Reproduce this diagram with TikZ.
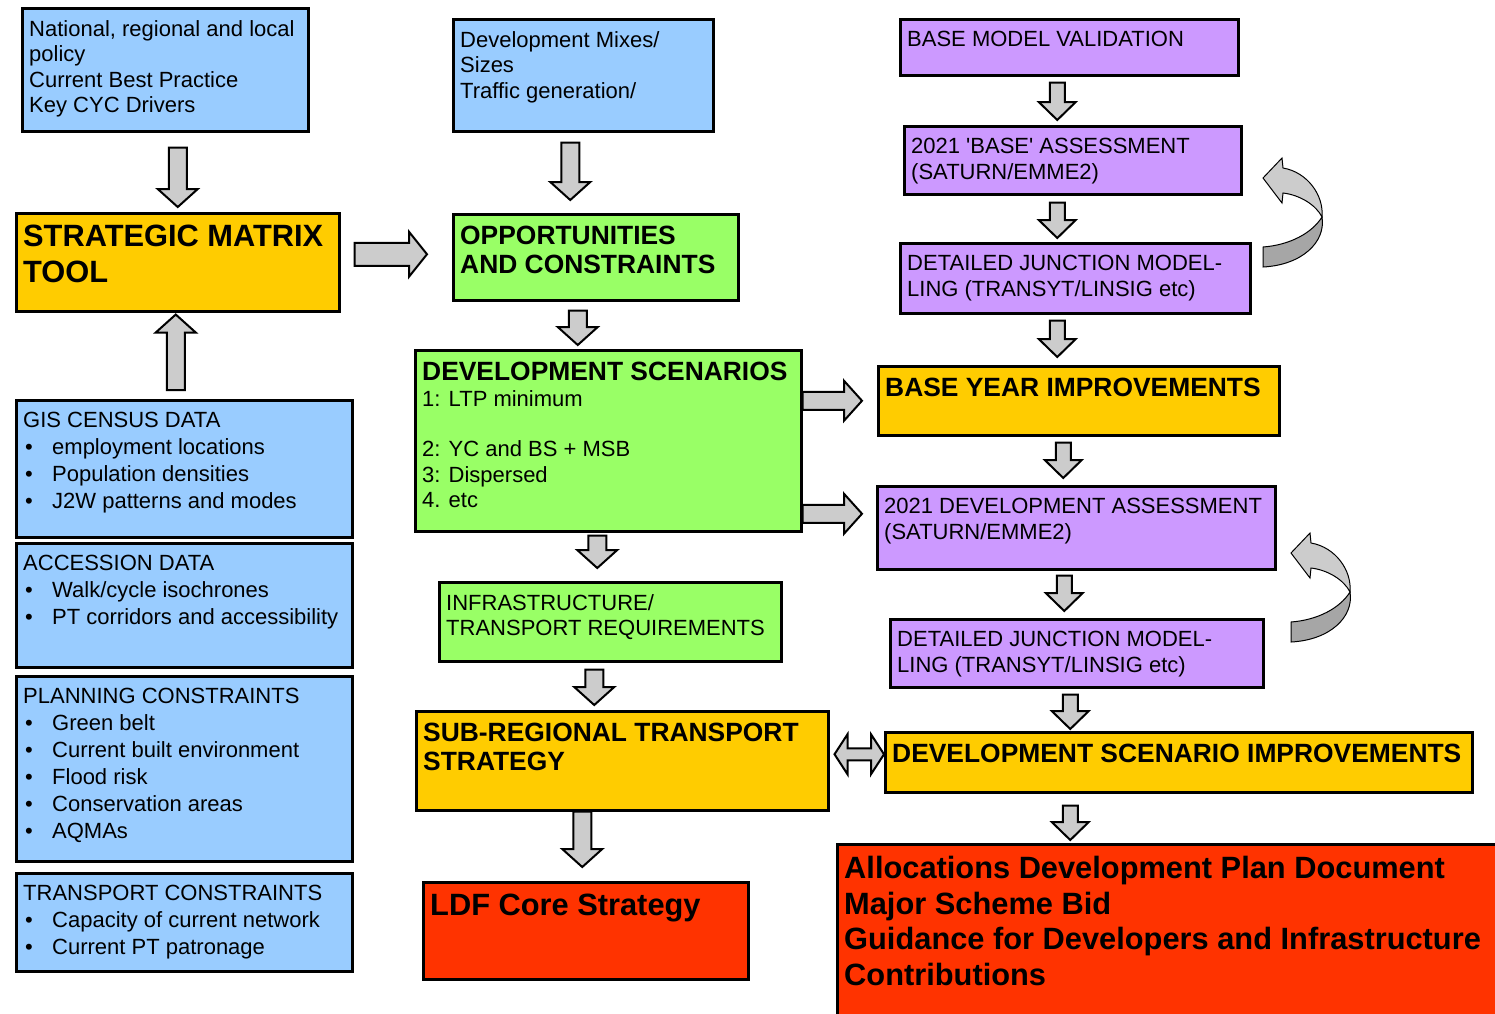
\documentclass[tikz,border=0pt]{standalone}
\usepackage{fontspec}
\setmainfont{Liberation Sans}
\usetikzlibrary{calc}

\definecolor{skyblue}{HTML}{99CCFF}
\definecolor{amber}{HTML}{FFCC00}
\definecolor{lgreen}{HTML}{99FF66}
\definecolor{lilac}{HTML}{CC99FF}
\definecolor{scarlet}{HTML}{FF3300}
\definecolor{arrowgray}{HTML}{CCCCCC}
\definecolor{loopdark}{HTML}{A6A6A6}

\tikzset{
  box/.style={draw, line width=2.5pt, anchor=north west, inner sep=0pt},
  txt/.style={anchor=north west, align=left, inner xsep=8pt, inner ysep=13pt, font=\fontsize{22}{25.5}\selectfont},
  lst/.style={txt, font=\fontsize{22}{27}\selectfont},
  hdr/.style={txt, font=\fontsize{26.4}{29}\selectfont\bfseries},
  big/.style={txt, font=\fontsize{30.8}{35.5}\selectfont\bfseries},
  fat/.style={draw=black, line width=2pt, fill=arrowgray, line join=miter},
  loopback/.pic={
    \draw[line width=1pt, fill=arrowgray] (60,0) .. controls (62,-22) and (45,-45) .. (21,-49) -- (20,-59) -- (1,-39) -- (20,-14) -- (21,-24) .. controls (38,-22) and (54,-12) .. (60,0) -- cycle;
    \draw[line width=1pt, fill=loopdark] (60,0) .. controls (50,16) and (28,28) .. (1,30) -- (1,50) .. controls (40,48) and (64,25) .. (60,0) -- cycle;
  }
}

\newcommand{\itm}[1]{\makebox[29pt][l]{\hspace*{2pt}\textbullet}#1}

% block arrow from #2 to #3, #1 = half shaft width
\newcommand{\fatarrow}[3][9pt]{%
  \coordinate (fa0) at (#2);
  \coordinate (fa1) at (#3);
  \coordinate (fam) at ($(fa1)!18pt!(fa0)$);
  \draw[fat] ($(fa0)!#1!90:(fa1)$) -- ($(fam)!#1!90:(fa1)$) -- ($(fam)!#1+11pt!90:(fa1)$) -- (fa1)
    -- ($(fam)!#1+11pt!-90:(fa1)$) -- ($(fam)!#1!-90:(fa1)$) -- ($(fa0)!#1!-90:(fa1)$) -- cycle;}
\newcommand{\dblarrow}[3][6pt]{%
  \coordinate (fa0) at (#2);
  \coordinate (fa1) at (#3);
  \coordinate (fam) at ($(fa1)!13pt!(fa0)$);
  \coordinate (fan) at ($(fa0)!13pt!(fa1)$);
  \draw[fat] (fa0) -- ($(fan)!#1+14pt!90:(fa1)$) -- ($(fan)!#1!90:(fa1)$) -- ($(fam)!#1!90:(fa1)$) -- ($(fam)!#1+14pt!90:(fa1)$) -- (fa1)
    -- ($(fam)!#1+14pt!-90:(fa1)$) -- ($(fam)!#1!-90:(fa1)$) -- ($(fan)!#1!-90:(fa1)$) -- ($(fan)!#1+14pt!-90:(fa1)$) -- cycle;}

\begin{document}
\begin{tikzpicture}[x=1pt, y=-1pt]
\useasboundingbox (0,0) rectangle (1495,1013);

% left column
\node[box, fill=skyblue, minimum width=286pt, minimum height=123pt,
  label={[txt]north west:{National, regional and local\\policy\\Current Best Practice\\Key CYC Drivers}}] (policy) at (21,7) {};
\node[box, fill=amber, minimum width=323pt, minimum height=98pt,
  label={[big]north west:{STRATEGIC MATRIX\\TOOL}}] (smt) at (15,212) {};
\node[box, fill=skyblue, minimum width=336pt, minimum height=137pt,
  label={[lst]north west:{GIS CENSUS DATA\\\itm{employment locations}\\\itm{Population densities}\\\itm{J2W patterns and modes}}}] (gis) at (15,399) {};
\node[box, fill=skyblue, minimum width=336pt, minimum height=124pt,
  label={[lst]north west:{ACCESSION DATA\\\itm{Walk/cycle isochrones}\\\itm{PT corridors and accessibility}}}] (access) at (15,542) {};
\node[box, fill=skyblue, minimum width=336pt, minimum height=185pt,
  label={[lst]north west:{PLANNING CONSTRAINTS\\\itm{Green belt}\\\itm{Current built environment}\\\itm{Flood risk}\\\itm{Conservation areas}\\\itm{AQMAs}}}] (planning) at (15,675) {};
\node[box, fill=skyblue, minimum width=336pt, minimum height=98pt,
  label={[lst]north west:{TRANSPORT CONSTRAINTS\\\itm{Capacity of current network}\\\itm{Current PT patronage}}}] (transp) at (15,872) {};

% middle column
\node[box, fill=skyblue, minimum width=260pt, minimum height=112pt,
  label={[txt]north west:{Development Mixes/\\Sizes\\Traffic generation/}}] (mixes) at (452,18) {};
\node[box, fill=lgreen, minimum width=285pt, minimum height=86pt,
  label={[hdr]north west:{OPPORTUNITIES\\AND CONSTRAINTS}}] (opp) at (452,213) {};
\node[box, fill=lgreen, minimum width=386pt, minimum height=181pt,
  label={[txt]north west:{{\fontsize{26.4}{29}\selectfont\bfseries DEVELOPMENT SCENARIOS}\\1: LTP minimum\\[25pt]2: YC and BS + MSB\\3: Dispersed\\4. etc}}] (scen) at (414,349) {};
\node[box, fill=lgreen, minimum width=342pt, minimum height=79pt,
  label={[txt]north west:{INFRASTRUCTURE/\\TRANSPORT REQUIREMENTS}}] (infra) at (438,581) {};
\node[box, fill=amber, minimum width=412pt, minimum height=99pt,
  label={[hdr]north west:{SUB-REGIONAL TRANSPORT\\STRATEGY}}] (subreg) at (415,710) {};
\node[box, fill=scarlet, minimum width=325pt, minimum height=97pt,
  label={[big]north west:{LDF Core Strategy}}] (ldf) at (422,881) {};

% right column
\node[box, fill=lilac, minimum width=338pt, minimum height=56pt,
  label={[txt]north west:{BASE MODEL VALIDATION}}] (bmv) at (899,18) {};
\node[box, fill=lilac, minimum width=337pt, minimum height=68pt,
  label={[txt]north west:{2021 \textquotesingle BASE\textquotesingle{} ASSESSMENT\\(SATURN/EMME2)}}] (base21) at (903,125) {};
\node[box, fill=lilac, minimum width=350pt, minimum height=70pt,
  label={[txt]north west:{DETAILED JUNCTION MODEL-\\LING (TRANSYT/LINSIG etc)}}] (junc1) at (899,242) {};
\node[box, fill=amber, minimum width=401pt, minimum height=69pt,
  label={[hdr]north west:{BASE YEAR IMPROVEMENTS}}] (byi) at (877,365) {};
\node[box, fill=lilac, minimum width=398pt, minimum height=83pt,
  label={[txt]north west:{2021 DEVELOPMENT ASSESSMENT\\(SATURN/EMME2)}}] (dev21) at (876,485) {};
\node[box, fill=lilac, minimum width=373pt, minimum height=68pt,
  label={[txt]north west:{DETAILED JUNCTION MODEL-\\LING (TRANSYT/LINSIG etc)}}] (junc2) at (889,618) {};
\node[box, fill=amber, minimum width=587pt, minimum height=60pt,
  label={[hdr]north west:{DEVELOPMENT SCENARIO IMPROVEMENTS}}] (dsi) at (884,731) {};
\node[box, fill=scarlet, minimum width=700pt, minimum height=200pt,
  label={[big]north west:{Allocations Development Plan Document\\Major Scheme Bid\\Guidance for Developers and Infrastructure\\Contributions}}] (alloc) at (836,843) {};

% block arrows
\fatarrow{$(policy.south -| smt.north)+(0,15)$}{$(smt.north)+(0,-5)$}
\fatarrow{$(smt.south |- gis.north)+(-2,-9)$}{$(smt.south)+(-2,2)$}
\fatarrow[11.5pt]{$(smt.east)+(14,-8)$}{$(smt.east -| opp.west)+(-25,-8)$}
\fatarrow{$(mixes.south)+(-13,10)$}{$(mixes.south |- opp.north)+(-13,-13)$}
\fatarrow{$(opp.south)+(-18,9)$}{$(opp.south |- scen.north)+(-18,-4)$}
\fatarrow{$(scen.south)+(-11,3)$}{$(scen.south |- infra.north)+(-11,-13)$}
\fatarrow{$(infra.south)+(-16,7)$}{$(infra.south |- subreg.north)+(-16,-5)$}
\fatarrow{$(subreg.south)+(-40,0)$}{$(subreg.south |- ldf.north)+(-40,-14)$}
\fatarrow{scen.east |- byi.west}{$(byi.west)+(-15,0)$}
\fatarrow{$(scen.east |- dev21.west)+(0,-14)$}{$(dev21.west)+(-14,-14)$}
\fatarrow[7.5pt]{$(bmv.south)+(-12,6)$}{$(bmv.south |- base21.north)+(-12,-5)$}
\fatarrow[7.5pt]{$(base21.south)+(-15.5,7)$}{$(base21.south |- junc1.north)+(-15.5,-4)$}
\fatarrow[7.5pt]{$(junc1.south)+(-18,6)$}{$(junc1.south |- byi.north)+(-18,-8)$}
\fatarrow[7.5pt]{$(byi.south)+(-15.5,6)$}{$(byi.south |- dev21.north)+(-15.5,-7)$}
\fatarrow[7.5pt]{$(dev21.south)+(-12,5)$}{$(dev21.south |- junc2.north)+(-12,-7)$}
\fatarrow[7.5pt]{$(junc2.south)+(-6.5,6)$}{$(junc2.south |- dsi.north)+(-6.5,-2)$}
\fatarrow[7.5pt]{$(dsi.south)+(-108.5,12)$}{$(dsi.south |- alloc.north)+(-108.5,-3)$}
\dblarrow{$(subreg.east)+(5,-6.5)$}{$(dsi.west)+(0,-8)$}

% feedback loops
\pic at (1262,217) {loopback};
\pic at (1290,592) {loopback};
\end{tikzpicture}
\end{document}
